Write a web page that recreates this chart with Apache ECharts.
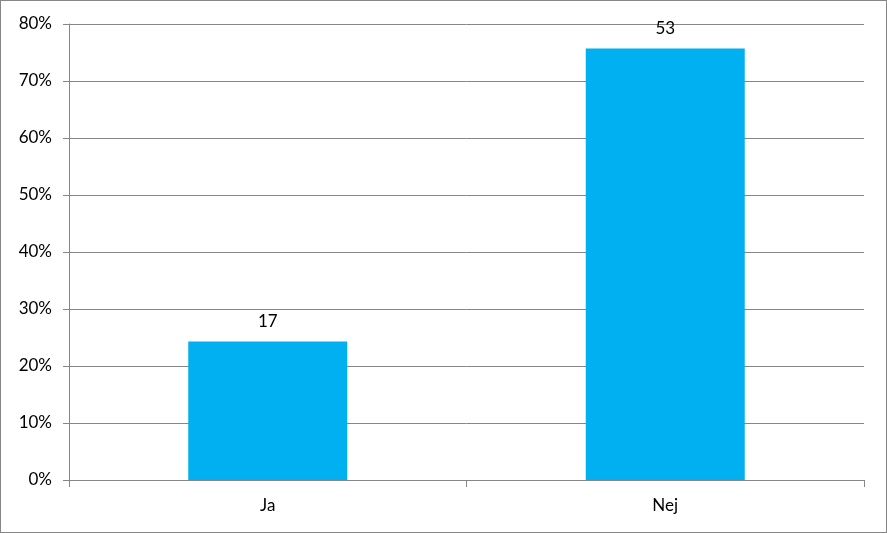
<!DOCTYPE html>
<html>
<head>
<meta charset="utf-8">
<script src="https://cdn.jsdelivr.net/npm/echarts@6/dist/echarts.min.js"></script>
<style>
    html, body { margin: 0; padding: 0; background: #fff; }
    #chart { width: 885px; height: 531px; border: 1px solid #868686; }
</style>
</head>
<body>
<div id="chart"></div>
<script>
// categories and values
let categories = ['Ja', 'Nej'];
let counts = [17, 53];            // labels above the bars
let percents = [24.3, 75.7];      // bar heights in %
let yTicks = [0, 10, 20, 30, 40, 50, 60, 70, 80];

let myChart = echarts.init(document.getElementById('chart'));

let gray = '#868686';
let font = 'Lato, "Open Sans", sans-serif';

let option = {
    animation: false,
    grid: {
        left: 68,
        right: 22,
        top: 23,
        bottom: 52
    },
    xAxis: {
        type: 'category',
        data: categories,
        axisLine: {lineStyle: {color: gray, width: 1}},
        axisTick: {show: true, length: 7, alignWithLabel: false, lineStyle: {color: gray}},
        axisLabel: {color: '#000', fontSize: 17, fontFamily: font, margin: 17}
    },
    yAxis: {
        type: 'value',
        min: yTicks[0],
        max: yTicks[yTicks.length - 1],
        interval: 10,
        axisLine: {show: true, lineStyle: {color: gray, width: 1}},
        axisTick: {show: true, length: 6, lineStyle: {color: gray}},
        splitLine: {lineStyle: {color: gray, width: 1}},
        axisLabel: {
            color: '#000', fontSize: 17, fontFamily: font, margin: 17,
            formatter: function (v) { return v + '%'; }
        }
    },
    series: [
        {
            type: 'bar',
            barWidth: '40%',
            data: percents,
            itemStyle: {color: '#00B0F0'},
            label: {
                show: true,
                position: 'top',
                distance: 11,
                color: '#000',
                fontSize: 17,
                fontFamily: font,
                formatter: function (p) { return counts[p.dataIndex]; }
            }
        }
    ]
};

myChart.setOption(option);
</script>
</body>
</html>
